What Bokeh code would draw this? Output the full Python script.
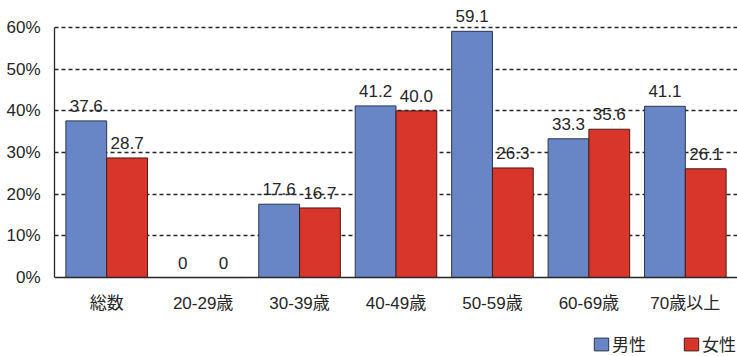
from bokeh.plotting import figure
from bokeh.models import (ColumnDataSource, FactorRange, PrintfTickFormatter,
                          FixedTicker, Legend, LegendItem, CategoricalAxis)
from bokeh.transform import dodge
from bokeh.core.properties import value
from bokeh.embed import file_html
from bokeh.resources import INLINE

categories = ["総数", "20-29歳", "30-39歳", "40-49歳", "50-59歳", "60-69歳", "70歳以上"]
male = [37.6, 0, 17.6, 41.2, 59.1, 33.3, 41.1]
female = [28.7, 0, 16.7, 40.0, 26.3, 35.6, 26.1]
y_ticks = [0, 10, 20, 30, 40, 50, 60]
series_names = ["男性", "女性"]

def fmt(v):
    return f"{v:.1f}" if v else "0"

source = ColumnDataSource(dict(
    cat=categories, male=male, female=female,
    male_lbl=[fmt(v) for v in male], female_lbl=[fmt(v) for v in female],
))

FONT = "Liberation Sans, 'Noto Sans CJK JP'"
BLUE = "#6886c5"
RED = "#d8362b"
INK = "#262626"

p = figure(width=737, height=356, output_backend="svg", toolbar_location=None,
           x_range=FactorRange(factors=categories, range_padding=0.041,
                               range_padding_units="absolute"),
           y_range=(-18.96, 66.5), x_axis_location=None,
           min_border_left=54, min_border_right=0, min_border_top=0, min_border_bottom=0)
p.outline_line_color = None
p.background_fill_color = "white"
p.border_fill_color = "white"

# grid
p.xgrid.grid_line_color = None
p.ygrid.ticker = FixedTicker(ticks=y_ticks[1:])
p.ygrid.grid_line_color = INK
p.ygrid.grid_line_dash = "4 3"
p.ygrid.grid_line_width = 1.3

# y axis
p.yaxis.ticker = FixedTicker(ticks=y_ticks)
p.yaxis.bounds = (0, 60)
p.yaxis.formatter = PrintfTickFormatter(format="%d%%")
p.yaxis.major_tick_line_color = None
p.yaxis.minor_tick_line_color = None
p.yaxis.axis_line_color = INK
p.yaxis.axis_line_width = 1.3
p.yaxis.major_label_text_font = FONT
p.yaxis.major_label_text_font_size = "17px"
p.yaxis.major_label_text_color = INK
p.yaxis.major_label_standoff = 8

w = 0.423
r1 = p.vbar(x=dodge("cat", -w / 2, range=p.x_range), top="male", width=w, source=source,
            fill_color=BLUE, line_color="#2b3550", line_width=1)
r2 = p.vbar(x=dodge("cat", w / 2, range=p.x_range), top="female", width=w, source=source,
            fill_color=RED, line_color="#4a1a14", line_width=1)

p.text(x=dodge("cat", -w / 2, range=p.x_range), y="male", text="male_lbl", source=source,
       text_align="center", text_baseline="bottom", y_offset=-9,
       text_font=value("Liberation Sans"), text_font_size="17px", text_color=INK)
p.text(x=dodge("cat", w / 2, range=p.x_range), y="female", text="female_lbl", source=source,
       text_align="center", text_baseline="bottom", y_offset=-9,
       text_font=value("Liberation Sans"), text_font_size="17px", text_color=INK)

# x axis at y = 0
xa = CategoricalAxis(fixed_location=0)
xa.major_tick_line_color = None
xa.minor_tick_line_color = None
xa.axis_line_color = INK
xa.axis_line_width = 1.3
xa.major_label_text_font = FONT
xa.major_label_text_font_size = "17px"
xa.major_label_text_color = INK
xa.major_label_standoff = 10
p.add_layout(xa, "below")

legend = Legend(items=[LegendItem(label=series_names[0], renderers=[r1]),
                       LegendItem(label=series_names[1], renderers=[r2])],
                orientation="horizontal", location=(538, 0),
                glyph_width=18, glyph_height=16, label_standoff=2, spacing=36,
                padding=0, margin=0, border_line_color=None,
                background_fill_alpha=0,
                label_text_font=FONT, label_text_font_size="17px",
                label_text_color=INK, label_height=16)
p.add_layout(legend, "center")

open("out.html", "w").write(file_html(p, INLINE))
